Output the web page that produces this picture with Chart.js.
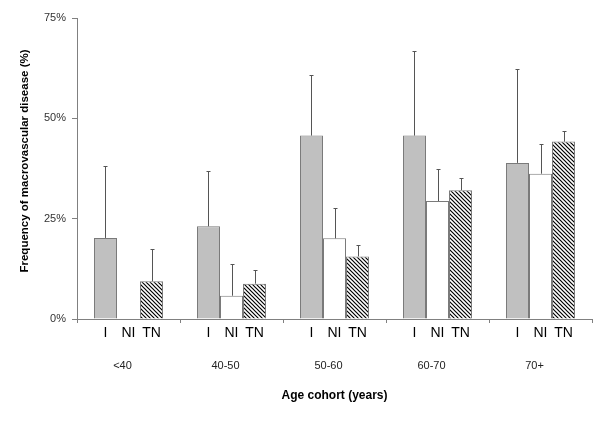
<!DOCTYPE html>
<html><head><meta charset="utf-8">
<script src="https://cdn.jsdelivr.net/npm/chart.js@4"></script>
<style>html,body{margin:0;padding:0;background:#fff}#wrap{width:600px;height:428px;position:relative}</style>
</head><body><div id="wrap"><canvas id="c"></canvas></div>
<script>
const categories = ['<40', '40-50', '50-60', '60-70', '70+'];
const groupLabels = ['I', 'NI', 'TN'];
const valuesI  = [20.2, 23.1, 45.7, 45.7, 38.9];
const upperI   = [38.2, 36.8, 60.7, 66.9, 62.2];
const valuesNI = [0, 5.8, 20.1, 29.4, 36.2];
const upperNI  = [null, 13.7, 27.7, 37.4, 43.6];
const valuesTN = [9.4, 8.8, 15.6, 32.1, 44.2];
const upperTN  = [17.4, 12.3, 18.4, 35.1, 46.8];
const yTicks = [0, 25, 50, 75];
const yTitle = 'Frequency of macrovascular disease (%)';
const xTitle = 'Age cohort (years)';

const FONT = "'Liberation Sans', Arial, sans-serif";

function makeHatch() {
  const c = document.createElement('canvas');
  c.width = 4; c.height = 4;
  const x = c.getContext('2d');
  x.fillStyle = '#fff'; x.fillRect(0, 0, 4, 4);
  x.strokeStyle = '#000'; x.lineWidth = 1.2;
  x.beginPath();
  x.moveTo(-1, -1); x.lineTo(5, 5);
  x.moveTo(3, -1); x.lineTo(5, 1);
  x.moveTo(-1, 3); x.lineTo(1, 5);
  x.stroke();
  return document.getElementById('c').getContext('2d').createPattern(c, 'repeat');
}

const uppers = [upperI, upperNI, upperTN];

const errorBars = {
  id: 'errorBars',
  afterDatasetsDraw(chart) {
    const ctx = chart.ctx, ys = chart.scales.y;
    ctx.save();
    ctx.strokeStyle = '#555'; ctx.lineWidth = 1;
    chart.data.datasets.forEach((ds, di) => {
      const meta = chart.getDatasetMeta(di);
      meta.data.forEach((el, i) => {
        const u = uppers[di][i];
        if (u == null) return;
        const x = Math.round(el.x) + 0.5;
        const y0 = ys.getPixelForValue(ds.data[i]);
        const y1 = Math.round(ys.getPixelForValue(u)) + 0.5;
        ctx.beginPath();
        ctx.moveTo(x, y0); ctx.lineTo(x, y1);
        ctx.moveTo(x - 2, y1); ctx.lineTo(x + 2, y1);
        ctx.stroke();
      });
    });
    ctx.restore();
  }
};

const extraText = {
  id: 'extraText',
  afterDraw(chart) {
    const ctx = chart.ctx, ys = chart.scales.y;
    ctx.save();
    ctx.fillStyle = '#000';
    ctx.font = '14px ' + FONT;
    ctx.textAlign = 'center'; ctx.textBaseline = 'middle';
    chart.data.datasets.forEach((ds, di) => {
      chart.getDatasetMeta(di).data.forEach(el => {
        ctx.fillText(groupLabels[di], el.x, ys.bottom + 14);
      });
    });
    ctx.font = 'bold 11.5px ' + FONT;
    ctx.translate(25, 161);
    ctx.rotate(-Math.PI / 2);
    ctx.fillText(yTitle, 0, 0);
    ctx.restore();
  }
};

const border = '#7a7a7a';
new Chart(document.getElementById('c'), {
  type: 'bar',
  data: {
    labels: categories,
    datasets: [
      { label: 'I', data: valuesI, backgroundColor: '#c0c0c0', borderColor: border, borderWidth: 1, borderSkipped: 'start' },
      { label: 'NI', data: valuesNI, backgroundColor: '#ffffff', borderColor: border, borderWidth: 1, borderSkipped: 'start' },
      { label: 'TN', data: valuesTN, backgroundColor: makeHatch(), borderColor: border, borderWidth: 1, borderSkipped: 'start' }
    ]
  },
  options: {
    responsive: true,
    maintainAspectRatio: false,
    animation: false,
    layout: { padding: { top: 18, right: 8, left: 0, bottom: 0 } },
    datasets: { bar: { categoryPercentage: 0.67, barPercentage: 1.0 } },
    plugins: { legend: { display: false }, tooltip: { enabled: false } },
    scales: {
      x: {
        offset: true,
        grid: { display: true, drawOnChartArea: false, tickLength: 4, color: '#808080', offset: true },
        border: { color: '#808080' },
        ticks: { padding: 36, labelOffset: -6, color: '#222', font: { family: FONT, size: 11 } },
        title: { display: true, text: xTitle, color: '#000', font: { family: FONT, size: 12, weight: 'bold' }, padding: { top: 0, bottom: 25 } },
        afterFit: s => { s.height = 109; }
      },
      y: {
        min: 0, max: 75,
        afterBuildTicks: s => { s.ticks = yTicks.map(v => ({ value: v })); },
        grid: { drawOnChartArea: false, tickLength: 5, color: '#808080' },
        border: { color: '#808080' },
        ticks: { padding: 6, color: '#333', font: { family: FONT, size: 11 }, callback: v => v + '%' },
        afterFit: s => { s.width = 77; }
      }
    }
  },
  plugins: [errorBars, extraText]
});
</script>
</body></html>
